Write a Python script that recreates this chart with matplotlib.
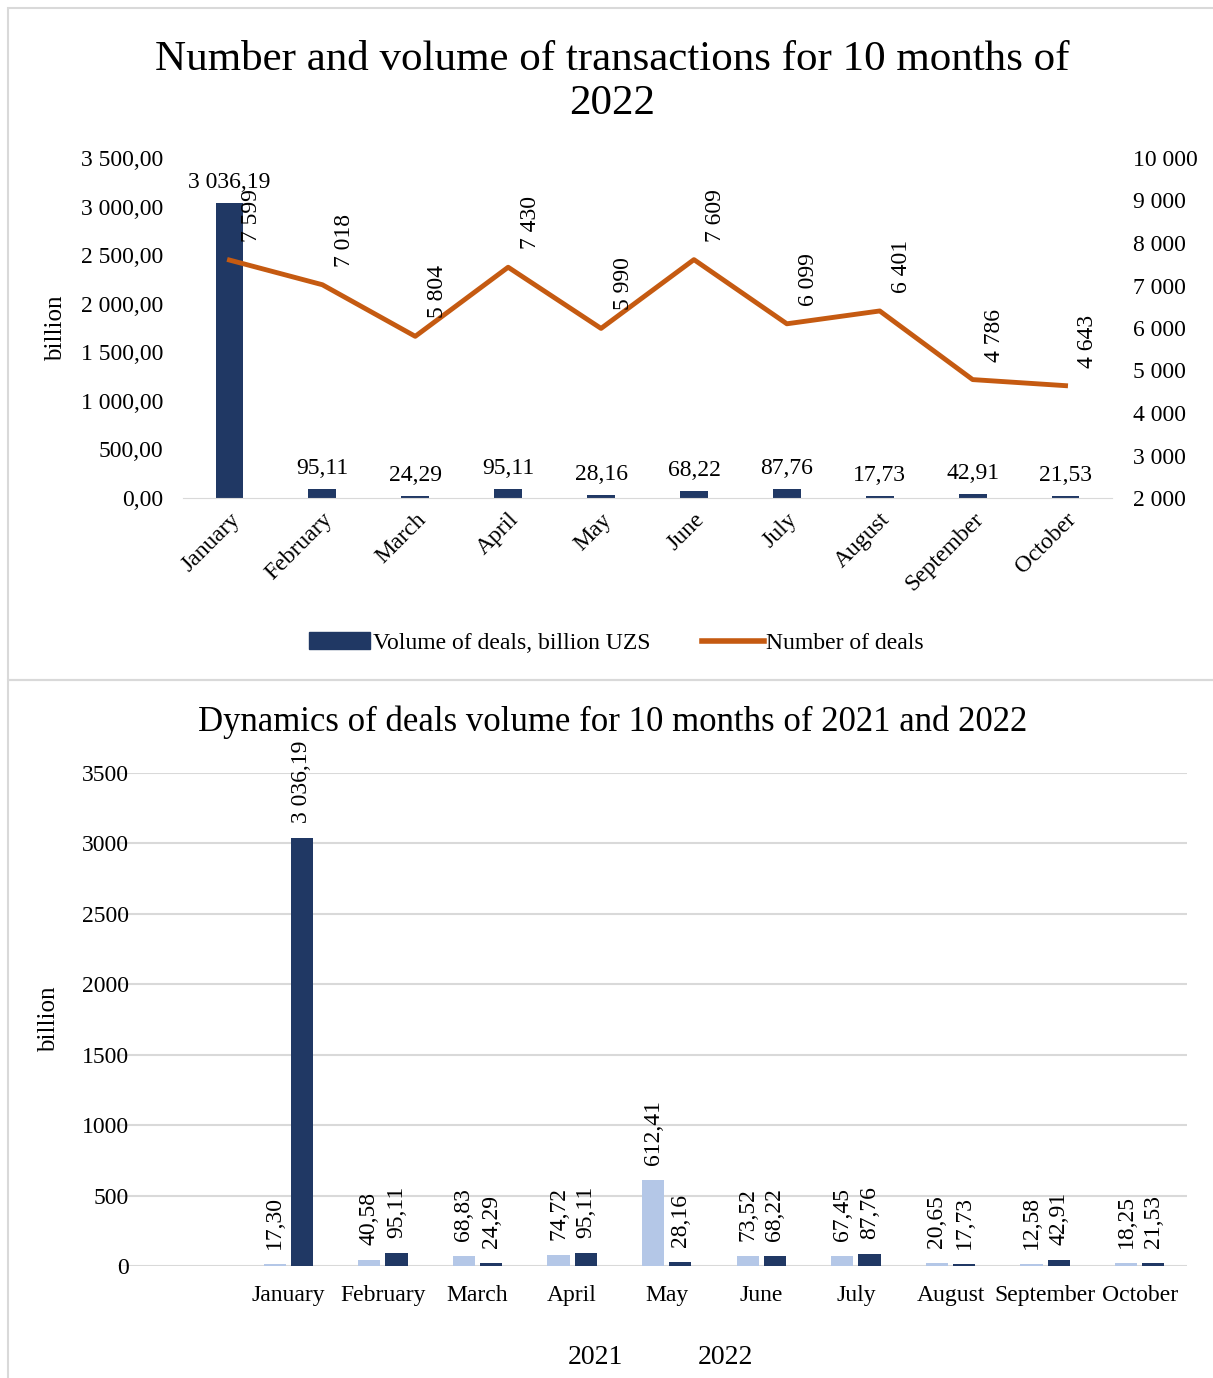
import matplotlib
matplotlib.use('Agg')
import numpy as np
from matplotlib import pyplot as plt
from matplotlib.patches import Rectangle, Patch
from matplotlib.lines import Line2D
from matplotlib.ticker import FuncFormatter

months = ['January', 'February', 'March', 'April', 'May', 'June',
          'July', 'August', 'September', 'October']
volume_2022 = [3036.19, 95.11, 24.29, 95.11, 28.16, 68.22, 87.76, 17.73, 42.91, 21.53]
volume_2021 = [17.30, 40.58, 68.83, 74.72, 612.41, 73.52, 67.45, 20.65, 12.58, 18.25]
deals_2022 = [7599, 7018, 5804, 7430, 5990, 7609, 6099, 6401, 4786, 4643]

navy = '#203864'
orange = '#C55A11'
light = '#B4C7E7'
grid = '#D9D9D9'

plt.rcParams['font.family'] = ['Liberation Serif', 'DejaVu Serif']
plt.rcParams['font.size'] = 17


def num_fmt(v, dec=2):
    s = f'{v:,.{dec}f}'
    return s.replace(',', ' ').replace('.', ',')


fig = plt.figure(figsize=(12.13, 13.78), dpi=100)
W, H = 1213, 1378

# panel borders
fig.patches.append(Rectangle((8 / W, 1 - 680 / H), 1.2, 672 / H, transform=fig.transFigure,
                             fill=False, edgecolor=grid, lw=1.5))
fig.patches.append(Rectangle((8 / W, -0.01), 1.2, 1 - 680 / H + 0.01, transform=fig.transFigure,
                             fill=False, edgecolor=grid, lw=1.5))

# ---- top chart
ax = fig.add_axes([183 / W, 1 - 498 / H, (1112 - 183) / W, 340 / H])
x = np.arange(len(months))
ax.bar(x, volume_2022, width=0.3, color=navy, zorder=2)
ax.set_xlim(-0.5, len(months) - 0.5)
ax.set_ylim(0, 3500)
ax.set_yticks(np.arange(0, 3501, 500))
ax.yaxis.set_major_formatter(FuncFormatter(lambda v, p: num_fmt(v)))
ax.set_xticks(x)
ax.set_xticklabels(months, rotation=45, ha='right', rotation_mode='anchor')
ax.tick_params(length=0, pad=8)
ax.tick_params(axis='y', pad=14)
for s in ['top', 'right', 'left']:
    ax.spines[s].set_visible(False)
ax.spines['bottom'].set_color(grid)
ax.set_ylabel('billion', fontsize=18, labelpad=10)
for xi, v in zip(x, volume_2022):
    ax.annotate(num_fmt(v), (xi, v), xytext=(0, 10), textcoords='offset pixels',
                ha='center', va='bottom')

ax2 = ax.twinx()
ax2.plot(x, deals_2022, color=orange, lw=3.5, zorder=3)
ax2.set_ylim(2000, 10000)
ax2.set_yticks(np.arange(2000, 10001, 1000))
ax2.yaxis.set_major_formatter(FuncFormatter(lambda v, p: num_fmt(v, 0)))
ax2.tick_params(length=0, pad=15)
for s in ['top', 'right', 'left', 'bottom']:
    ax2.spines[s].set_visible(False)
for xi, v in zip(x, deals_2022):
    ax2.annotate(num_fmt(v, 0), (xi, v), xytext=(22, 18), textcoords='offset pixels',
                 ha='center', va='bottom', rotation=90)

fig.suptitle('Number and volume of transactions for 10 months of\n2022',
             x=0.505, y=1 - 40 / H, va='top', fontsize=31, linespacing=1.2)

handles = [Patch(color=navy), Line2D([0], [0], color=orange, lw=4)]
fig.legend(handles, ['Volume of deals, billion UZS', 'Number of deals'],
           loc='center', bbox_to_anchor=(0.508, 1 - 643 / H), ncol=2, frameon=False,
           handlelength=2.6, handletextpad=0.1, columnspacing=2.2)

# ---- bottom chart
bx = fig.add_axes([118 / W, 1 - 1266 / H, (1187 - 118) / W, 493 / H])
off = 0.143
bw = 0.235
bx.bar(x - off, volume_2021, width=bw, color=light, zorder=2)
bx.bar(x + off, volume_2022, width=bw, color=navy, zorder=2)
bx.set_xlim(-1.8, 9.5)
bx.set_ylim(0, 3500)
bx.set_yticks(np.arange(0, 3501, 500))
bx.grid(axis='y', color=grid, lw=1.5, zorder=0)
bx.set_xticks(x)
bx.set_xticklabels(months)
bx.tick_params(length=0, pad=14)
bx.tick_params(axis='y', pad=-8)
for s in ['top', 'right', 'left', 'bottom']:
    bx.spines[s].set_visible(False)
bx.set_ylabel('billion', fontsize=18, labelpad=16)
for xi, a, b in zip(x, volume_2021, volume_2022):
    bx.annotate(num_fmt(a), (xi - off, a), xytext=(0, 15), textcoords='offset pixels',
                ha='center', va='bottom', rotation=90)
    bx.annotate(num_fmt(b), (xi + off, b), xytext=(0, 15), textcoords='offset pixels',
                ha='center', va='bottom', rotation=90)

fig.text(0.505, 1 - 722 / H, 'Dynamics of deals volume for 10 months of 2021 and 2022',
         ha='center', va='center', fontsize=25)
fig.text(595 / W, 1 - 1358 / H, '2021', ha='center', va='center', fontsize=20)
fig.text(725 / W, 1 - 1358 / H, '2022', ha='center', va='center', fontsize=20)

fig.savefig('out.png', dpi=100)
plt.close(fig)
